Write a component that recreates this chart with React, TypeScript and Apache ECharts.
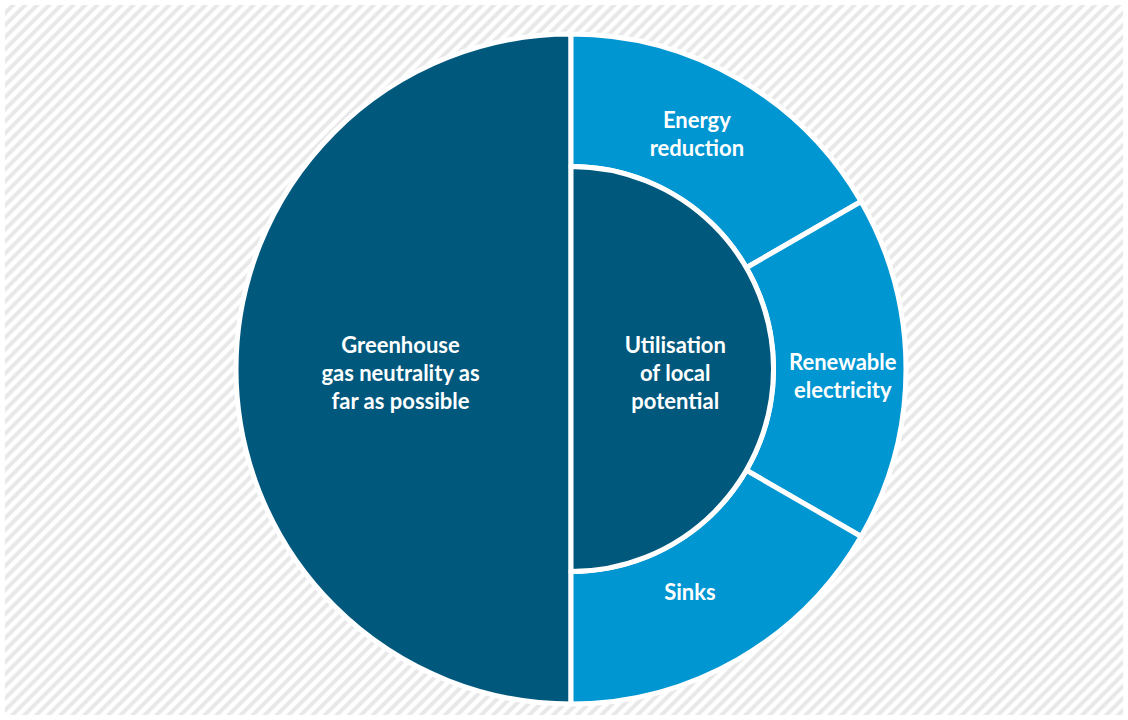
import React, { useEffect, useRef } from "react";
import * as echarts from "echarts";

const outerLabels = ["Energy\nreduction", "Renewable\nelectricity", "Sinks"];
const outerValues = [1, 1, 1];
const leftLabel = "Greenhouse\ngas neutrality as\nfar as possible";
const leftValue = 3;
const innerLabel = "Utilisation\nof local\npotential";
const innerValue = 3;

const DARK = "#00587d";
const LIGHT = "#0096d2";
const outerOffsets = [[-10, 0], [0, 6], [-17, -13]];

const labelStyle = {
  show: true,
  position: "inside" as const,
  color: "#ffffff",
  fontFamily: "Lato",
  fontWeight: "bold" as const,
  fontSize: 22,
  lineHeight: 28,
  offset: [0, 3],
};

const hidden = (value: number) => ({
  value,
  name: "",
  itemStyle: { color: "transparent", borderWidth: 0 },
  label: { show: false },
  tooltip: { show: false },
});

export default function App() {
  const ref = useRef<HTMLDivElement>(null);
  useEffect(() => {
    if (!ref.current) return;
    const chart = echarts.init(ref.current, null, { renderer: "svg" });
    const center = [571, 369];
    const common = {
      type: "pie",
      center,
      startAngle: 90,
      clockwise: true,
      silent: true,
      emphasis: { disabled: true },
      labelLine: { show: false },
      itemStyle: { borderColor: "#ffffff", borderWidth: 5 },
      label: labelStyle,
    };
    chart.setOption({
      animation: false,
      backgroundColor: "transparent",
      series: [
        {
          ...common,
          radius: [0, 335],
          data: [
            hidden(leftValue),
            { value: leftValue, name: leftLabel, itemStyle: { color: DARK } },
          ],
        },
        {
          ...common,
          radius: [202.5, 335],
          data: [
            ...outerLabels.map((n, i) => ({
              value: outerValues[i],
              name: n,
              itemStyle: { color: LIGHT },
              label: { offset: outerOffsets[i] },
            })),
            hidden(leftValue),
          ],
        },
        {
          ...common,
          radius: [0, 202.5],
          data: [
            { value: innerValue, name: innerLabel, itemStyle: { color: DARK } },
            hidden(innerValue),
          ],
        },
      ],
    });
    return () => chart.dispose();
  }, []);

  return (
    <div style={{ position: "fixed", left: 0, top: 0, width: 1128, height: 720, background: "#ffffff" }}>
      <div
        style={{
          position: "absolute",
          left: 5,
          top: 5,
          right: 5,
          bottom: 5,
          background:
            "repeating-linear-gradient(135deg, #ffffff 0px, #ffffff 3px, #e8e8e8 4.5px, #e8e8e8 7px, #ffffff 8.5px)",
        }}
      />
      <div ref={ref} style={{ position: "absolute", left: 0, top: 0, width: 1128, height: 720 }} />
    </div>
  );
}
